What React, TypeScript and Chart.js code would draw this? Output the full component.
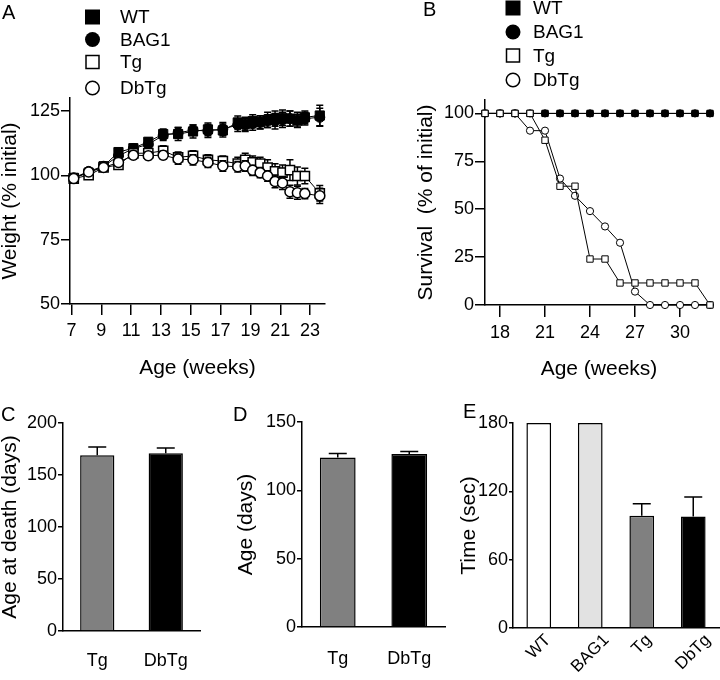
import React, { useEffect, useRef } from "react";
import { Chart, registerables } from "chart.js";

Chart.register(...registerables);

const FONT = "'Liberation Sans', Arial, Helvetica, sans-serif";
Chart.defaults.font.family = FONT;
Chart.defaults.color = "#000";

// ---------- Panel A: body weight ----------
const weeksA = [7.15, 8.15, 9.15, 10.15, 11.15, 12.15, 13.15, 14.15, 15.15, 16.15, 17.15, 18.15, 18.65, 19.15, 19.65, 20.15, 20.65, 21.15, 21.65, 22.15, 22.65, 23.65];
const wtWeight = [99, 101, 103.5, 109, 110.5, 113, 116, 116, 117, 117.8, 117.4, 120.5, 120, 121, 120.6, 121.5, 122, 122.3, 122, 121.2, 122.5, 123.2];
const wtWeightErr = [1, 1, 1, 1.5, 1.5, 1.5, 2, 2.5, 2.5, 2.5, 2.5, 2.5, 2.5, 2.5, 2.5, 3, 3, 3, 3, 2.5, 2.5, 4];
const bag1Weight = [99, 101.5, 103.5, 107.5, 110.4, 112, 115.5, 116.5, 117.5, 117.2, 118, 119.5, 119.5, 120, 120.5, 121, 121, 121.5, 122, 121.5, 122, 122.5];
const bag1WeightErr = [1, 1, 1, 1.5, 1.5, 1.5, 2, 2, 2, 2.5, 2.5, 2.5, 2.5, 2.5, 2.5, 2.5, 3, 3, 3, 3, 2.5, 3.5];
const tgWeight = [98.7, 100, 103, 104, 108.5, 108.6, 109.5, 107, 107.5, 106, 105.5, 104.5, 106, 105, 104.5, 103, 101.5, 101, 102, 99.7, 99.7, 93];
const tgWeightErr = [1, 1, 1, 1.5, 1.5, 1.5, 2, 2, 2, 2, 2, 2.5, 2.5, 2.5, 2.5, 3, 3, 3, 4, 3.5, 3, 3];
const dbtgWeight = [98.7, 101.3, 103, 105, 107.8, 107.6, 107.8, 106.3, 106, 105, 103.6, 103.3, 103.6, 101.9, 101, 99.7, 97.6, 97, 93.6, 93.2, 92.9, 92];
const dbtgWeightErr = [1, 1, 1, 1.5, 1.5, 1.5, 1.5, 2, 2, 2, 2, 2, 2, 2, 2, 2, 2.5, 2.5, 2.5, 2.5, 2, 3];
const xTicksA = [7, 9, 11, 13, 15, 17, 19, 21, 23];
const yTicksA = [50, 75, 100, 125];

// ---------- Panel B: survival ----------
const weeksB = [17, 18, 19, 20, 21, 22, 23, 24, 25, 26, 27, 28, 29, 30, 31, 32];
const wtSurvival = [100, 100, 100, 100, 100, 100, 100, 100, 100, 100, 100, 100, 100, 100, 100, 100];
const bag1Survival = [100, 100, 100, 100, 100, 100, 100, 100, 100, 100, 100, 100, 100, 100, 100, 100];
const tgSurvival = [100, 100, 100, 100, 86, 62, 62, 24, 24, 11.5, 11.5, 11.5, 11.5, 11.5, 11.5, 0];
const dbtgSurvival = [100, 100, 100, 91, 91, 66, 57, 49, 41, 32.5, 7, 0, 0, 0, 0, 0];
const xTicksB = [18, 21, 24, 27, 30];
const yTicksB = [0, 25, 50, 75, 100];

const legendLabels = ["WT", "BAG1", "Tg", "DbTg"];

// ---------- Panel C: age at death ----------
const groupsC = ["Tg", "DbTg"];
const ageAtDeath = [169, 171];
const ageAtDeathErr = [8, 5];
const yTicksC = [0, 50, 100, 150, 200];

// ---------- Panel D: age (days) ----------
const groupsD = ["Tg", "DbTg"];
const ageDays = [124, 126.5];
const ageDaysErr = [3, 2];
const yTicksD = [0, 50, 100, 150];

// ---------- Panel E: time (sec) ----------
const groupsE = ["WT", "BAG1", "Tg", "DbTg"];
const timeSec = [180, 180, 98.5, 98];
const timeSecErr = [0, 0, 10.5, 17];
const yTicksE = [0, 60, 120, 180];

// ---------- helpers ----------
const setTicks = (vals: number[]) => (s: any) => {
  s.ticks = vals.map((v) => ({ value: v }));
};
const fixWidth = (w: number) => (s: any) => {
  s.width = w;
};
const fixHeight = (h: number) => (s: any) => {
  s.height = h;
};
const gridOpts = (len: number, show = true) => ({
  display: show,
  drawOnChartArea: false,
  drawTicks: true,
  tickLength: len,
  color: "#000",
  lineWidth: 1.5,
});
const borderOpts = { display: true, color: "#000", width: 1.5 };

const lineErrPlugin = {
  id: "lineErr",
  beforeDatasetDraw(chart: any, args: any) {
    const ds = chart.data.datasets[args.index];
    if (!ds.errors) return;
    const ctx = chart.ctx;
    const ys = chart.scales.y;
    ctx.save();
    ctx.strokeStyle = "#000";
    ctx.lineWidth = 1.5;
    args.meta.data.forEach((pt: any, i: number) => {
      const v = ds.data[i].y;
      const e = ds.errors[i];
      const yt = ys.getPixelForValue(v + e);
      const yb = ys.getPixelForValue(v - e);
      const cw = ds.capWidth;
      ctx.beginPath();
      ctx.moveTo(pt.x, yt);
      ctx.lineTo(pt.x, yb);
      ctx.moveTo(pt.x - cw / 2, yt);
      ctx.lineTo(pt.x + cw / 2, yt);
      ctx.moveTo(pt.x - cw / 2, yb);
      ctx.lineTo(pt.x + cw / 2, yb);
      ctx.stroke();
    });
    ctx.restore();
  },
};

const barErrPlugin = {
  id: "barErr",
  afterDatasetsDraw(chart: any) {
    const ds = chart.data.datasets[0];
    const meta = chart.getDatasetMeta(0);
    const ys = chart.scales.y;
    const ctx = chart.ctx;
    ctx.save();
    ctx.strokeStyle = "#000";
    ctx.lineWidth = 1.5;
    meta.data.forEach((bar: any, i: number) => {
      const e = ds.errors[i];
      if (!e) return;
      const yt = ys.getPixelForValue(ds.data[i] + e);
      ctx.beginPath();
      ctx.moveTo(bar.x, bar.y);
      ctx.lineTo(bar.x, yt);
      ctx.moveTo(bar.x - 9, yt);
      ctx.lineTo(bar.x + 9, yt);
      ctx.stroke();
    });
    ctx.restore();
  },
};

// rotated category labels, each centred under its bar
const rotatedLabelPlugin = {
  id: "rotLabels",
  afterDraw(chart: any) {
    const xs = chart.scales.x;
    const ctx = chart.ctx;
    ctx.save();
    ctx.font = `17px ${FONT}`;
    ctx.fillStyle = "#000";
    ctx.textAlign = "center";
    ctx.textBaseline = "middle";
    chart.data.labels.forEach((lab: string, i: number) => {
      const x = xs.getPixelForTick(i);
      const L = ctx.measureText(lab).width;
      const h = 13;
      const yc = xs.top + 5 + (L + h) / (2 * Math.SQRT2);
      ctx.save();
      ctx.translate(x, yc);
      ctx.rotate(-Math.PI / 4);
      ctx.fillText(lab, 0, 0);
      ctx.restore();
    });
    ctx.restore();
  },
};

const makeLegendPlugin = (mx: number, tx: number, rows: number[], ms: number, fs: number) => ({
  id: "panelLegend",
  afterDraw(chart: any) {
    const ctx = chart.ctx;
    ctx.save();
    ctx.font = `${fs}px ${FONT}`;
    ctx.textBaseline = "middle";
    ctx.textAlign = "left";
    legendLabels.forEach((label, i) => {
      const y = rows[i];
      ctx.lineWidth = 1.5;
      ctx.strokeStyle = "#000";
      ctx.fillStyle = "#000";
      if (i === 0) ctx.fillRect(mx - ms / 2, y - ms / 2, ms, ms);
      if (i === 1) {
        ctx.beginPath();
        ctx.arc(mx, y, ms / 2, 0, Math.PI * 2);
        ctx.fill();
      }
      if (i === 2) {
        const s = ms - 2;
        ctx.strokeRect(mx - s / 2, y - s / 2, s, s);
      }
      if (i === 3) {
        ctx.beginPath();
        ctx.arc(mx, y, (ms - 1.5) / 2, 0, Math.PI * 2);
        ctx.stroke();
      }
      ctx.fillStyle = "#000";
      ctx.fillText(label, tx, y + 1);
    });
    ctx.restore();
  },
});

const toXY = (xs: number[], ys: number[]) => xs.map((x, i) => ({ x, y: ys[i] }));

const lineDs = (label: string, xs: number[], ys: number[], errs: number[] | null, shape: string, fill: string, radius: number, order: number, bw: number, cap: number) => ({
  label,
  data: toXY(xs, ys),
  errors: errs,
  capWidth: cap,
  borderColor: "#000",
  borderWidth: 1,
  pointStyle: shape,
  pointRadius: radius,
  pointBackgroundColor: fill,
  pointBorderColor: "#000",
  pointBorderWidth: bw,
  tension: 0,
  fill: false,
  order,
  clip: false,
});

function buildA() {
  return {
    type: "line",
    data: {
      datasets: [
        lineDs("DbTg", weeksA, dbtgWeight, dbtgWeightErr, "circle", "#fff", 5, 1, 1.5, 7),
        lineDs("Tg", weeksA, tgWeight, tgWeightErr, "rect", "#fff", 6.5, 2, 1.5, 7),
        lineDs("BAG1", weeksA, bag1Weight, bag1WeightErr, "circle", "#000", 5, 3, 1, 7),
        lineDs("WT", weeksA, wtWeight, wtWeightErr, "rect", "#000", 6.5, 4, 1, 7),
      ],
    },
    options: {
      responsive: false,
      animation: false,
      events: [],
      layout: { padding: { left: 0, top: 98, right: 35, bottom: 0 } },
      plugins: { legend: { display: false }, tooltip: { enabled: false } },
      scales: {
        x: {
          type: "linear",
          min: 6.9,
          max: 24,
          afterBuildTicks: setTicks(xTicksA),
          afterFit: fixHeight(86),
          grid: gridOpts(11),
          border: borderOpts,
          ticks: { font: { size: 18 }, color: "#000", padding: 5, maxRotation: 0 },
          title: { display: true, text: "Age (weeks)", font: { size: 21 }, color: "#000", padding: { top: 0, bottom: 9 } },
        },
        y: {
          min: 50,
          max: 130,
          afterBuildTicks: setTicks(yTicksA),
          afterFit: fixWidth(70),
          grid: gridOpts(9),
          border: borderOpts,
          ticks: { font: { size: 18 }, color: "#000", padding: 1 },
          title: { display: true, text: "Weight (% initial)", font: { size: 21 }, color: "#000", padding: { top: -2, bottom: 0 } },
        },
      },
    },
    plugins: [lineErrPlugin, makeLegendPlugin(92.5, 120, [17, 39.5, 62, 88], 15, 19)],
  };
}

function buildB() {
  return {
    type: "line",
    data: {
      datasets: [
        lineDs("Tg", weeksB, tgSurvival, null, "rect", "#fff", 4.5, 1, 1, 0),
        lineDs("DbTg", weeksB, dbtgSurvival, null, "circle", "#fff", 3.6, 2, 1, 0),
        lineDs("BAG1", weeksB, bag1Survival, null, "circle", "#000", 3.6, 3, 1, 0),
        lineDs("WT", weeksB, wtSurvival, null, "rect", "#000", 4.5, 4, 1, 0),
      ],
    },
    options: {
      responsive: false,
      animation: false,
      events: [],
      layout: { padding: { left: 0, top: 100, right: 7, bottom: 0 } },
      plugins: { legend: { display: false }, tooltip: { enabled: false } },
      scales: {
        x: {
          type: "linear",
          min: 17,
          max: 32.2,
          afterBuildTicks: setTicks(xTicksB),
          afterFit: fixHeight(85),
          grid: gridOpts(12),
          border: borderOpts,
          ticks: { font: { size: 18 }, color: "#000", padding: 5, maxRotation: 0 },
          title: { display: true, text: "Age (weeks)", font: { size: 21 }, color: "#000", padding: { top: 0, bottom: 8 } },
        },
        y: {
          min: 0,
          max: 107,
          afterBuildTicks: setTicks(yTicksB),
          afterFit: fixWidth(125),
          grid: gridOpts(10),
          border: borderOpts,
          ticks: { font: { size: 18 }, color: "#000", padding: 1 },
          title: { display: true, text: "Survival  (% of initial)", font: { size: 21 }, color: "#000", padding: { top: 54, bottom: 0 } },
        },
      },
    },
    plugins: [makeLegendPlugin(153, 173, [8, 32, 55.5, 80], 15, 19)],
  };
}

function buildBar(
  groups: string[],
  values: number[],
  errs: number[],
  colors: string[],
  yMax: number,
  yTicks: number[],
  yTitle: string,
  pad: { top: number; right: number },
  yWidth: number,
  xHeight: number,
  barPct: number,
  titlePad: number,
  yTickLen: number,
  xTicks: any,
  extraPlugins: any[]
) {
  return {
    type: "bar",
    data: {
      labels: groups,
      datasets: [
        {
          data: values,
          errors: errs,
          backgroundColor: colors,
          borderColor: "#000",
          borderWidth: 1.5,
          borderSkipped: "bottom",
          categoryPercentage: 1,
          barPercentage: barPct,
        },
      ],
    },
    options: {
      responsive: false,
      animation: false,
      events: [],
      layout: { padding: { left: 0, top: pad.top, right: pad.right, bottom: 0 } },
      plugins: { legend: { display: false }, tooltip: { enabled: false } },
      scales: {
        x: {
          afterFit: fixHeight(xHeight),
          grid: { display: false },
          border: borderOpts,
          ticks: xTicks,
        },
        y: {
          min: 0,
          max: yMax,
          afterBuildTicks: setTicks(yTicks),
          afterFit: fixWidth(yWidth),
          grid: gridOpts(yTickLen),
          border: borderOpts,
          ticks: { font: { size: 18 }, color: "#000", padding: 1 },
          title: { display: true, text: yTitle, font: { size: 21 }, color: "#000", padding: { top: titlePad, bottom: 0 } },
        },
      },
    },
    plugins: [barErrPlugin, ...extraPlugins],
  };
}

const buildC = () =>
  buildBar(groupsC, ageAtDeath, ageAtDeathErr, ["#808080", "#000000"], 200, yTicksC, "Age at death (days)", { top: 33, right: 30 }, 63, 49, 0.5, -2, 5, {
    font: { size: 18 },
    color: "#000",
    padding: 11,
  }, []);
const buildD = () =>
  buildBar(groupsD, ageDays, ageDaysErr, ["#808080", "#000000"], 150, yTicksD, "Age (days)", { top: 32, right: 15 }, 72, 53, 0.5, 4, 5, {
    font: { size: 18 },
    color: "#000",
    padding: 13,
  }, []);
const buildE = () =>
  buildBar(groupsE, timeSec, timeSecErr, ["#ffffff", "#e2e2e2", "#808080", "#000000"], 180, yTicksE, "Time (sec)", { top: 33, right: 1 }, 53, 52, 0.48, -3, 4, {
    display: false,
  }, [rotatedLabelPlugin]);

function ChartCanvas({ left, top, width, height, build }: any) {
  const ref = useRef<HTMLCanvasElement>(null);
  useEffect(() => {
    const chart = new Chart(ref.current as HTMLCanvasElement, build() as any);
    return () => chart.destroy();
  }, []);
  return (
    <canvas
      ref={ref}
      width={width}
      height={height}
      style={{ position: "absolute", left, top, width, height, display: "block" }}
    />
  );
}

const letterStyle = (left: number, top: number): React.CSSProperties => ({
  position: "absolute",
  left,
  top,
  fontSize: 20,
  lineHeight: "20px",
  fontFamily: FONT,
  color: "#000",
});

export default function App() {
  return (
    <div style={{ position: "fixed", left: 0, top: 0, width: 720, height: 680, background: "#fff", overflow: "hidden" }}>
      <ChartCanvas left={0} top={0} width={360} height={390} build={buildA} />
      <ChartCanvas left={360} top={0} width={360} height={390} build={buildB} />
      <ChartCanvas left={0} top={390} width={230} height={290} build={buildC} />
      <ChartCanvas left={230} top={390} width={230} height={290} build={buildD} />
      <ChartCanvas left={460} top={390} width={260} height={290} build={buildE} />
      <div style={letterStyle(2, 2)}>A</div>
      <div style={letterStyle(423, -1)}>B</div>
      <div style={letterStyle(1, 403.5)}>C</div>
      <div style={letterStyle(233, 403.5)}>D</div>
      <div style={letterStyle(463, 400.5)}>E</div>
    </div>
  );
}
